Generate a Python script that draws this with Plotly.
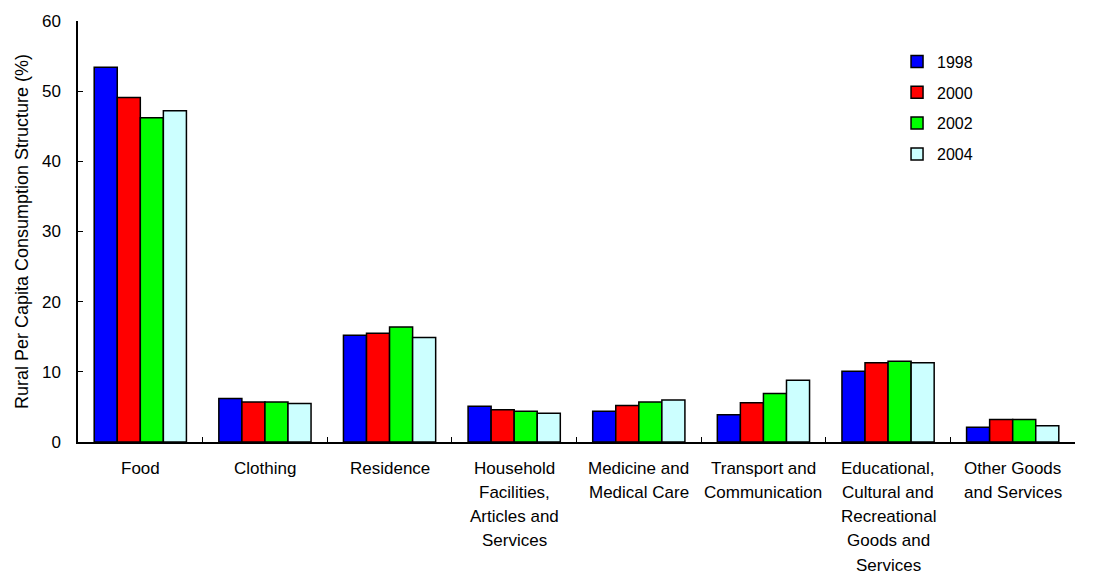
import plotly.graph_objects as go

# Rural per capita consumption structure (%), by spending category
categories = ["Food", "Clothing", "Residence", "Household", "Medicine",
              "Transport", "Education", "Other"]
category_lines = [
    ["Food"],
    ["Clothing"],
    ["Residence"],
    ["Household", "Facilities,", "Articles and", "Services"],
    ["Medicine and", "Medical Care"],
    ["Transport and", "Communication"],
    ["Educational,", "Cultural and", "Recreational", "Goods and", "Services"],
    ["Other Goods", "and Services"],
]

years = ["1998", "2000", "2002", "2004"]
values_1998 = [53.4, 6.2, 15.2, 5.1, 4.4, 3.9, 10.1, 2.1]
values_2000 = [49.1, 5.7, 15.5, 4.6, 5.2, 5.6, 11.3, 3.2]
values_2002 = [46.2, 5.7, 16.4, 4.4, 5.7, 6.9, 11.5, 3.2]
values_2004 = [47.2, 5.5, 14.9, 4.1, 6.0, 8.8, 11.3, 2.3]
series = [values_1998, values_2000, values_2002, values_2004]
colors = ["#0000FF", "#FF0000", "#00FF00", "#CCFFFF"]

FONT = "Liberation Sans, Arial, sans-serif"

fig = go.Figure()
for i, (year, vals, col) in enumerate(zip(years, series, colors)):
    fig.add_trace(go.Bar(
        x=categories, y=vals, name=year,
        legendgroup=year,
        marker=dict(color=col, line=dict(color="black", width=1.5)),
    ))

# multi-line category labels under the axis
line_gap = 24.3
for cat, lines in zip(categories, category_lines):
    for j, txt in enumerate(lines):
        fig.add_annotation(
            x=cat, xref="x", y=0, yref="paper",
            text=txt, showarrow=False,
            yanchor="middle", xanchor="center",
            yshift=-(26 + j * line_gap),
            font=dict(family=FONT, size=17, color="black"),
        )

fig.update_layout(
    width=1096, height=574,
    margin=dict(l=78, r=21, t=16, b=132),
    paper_bgcolor="white", plot_bgcolor="white",
    barmode="group", bargap=0.26, bargroupgap=0,
    font=dict(family=FONT, size=16, color="black"),
    showlegend=True,
    legend=dict(
        x=0.8215, y=0.944, xanchor="left", yanchor="top",
        font=dict(family=FONT, size=16, color="black"),
        tracegroupgap=7, bgcolor="rgba(0,0,0,0)",
    ),
    xaxis=dict(
        type="category", showline=True, linecolor="black", linewidth=1.5,
        ticks="inside", ticklen=5, tickcolor="black", tickson="boundaries",
        showticklabels=False, showgrid=False, zeroline=False,
        range=[-0.5, len(categories) - 0.5],
    ),
    yaxis=dict(
        range=[0, 60], dtick=10, showline=True, linecolor="black", linewidth=1.5,
        ticks="inside", ticklen=5, tickcolor="black",
        showgrid=False, zeroline=False,
        tickfont=dict(family=FONT, size=17, color="black"),
        ticklabelstandoff=12,
        title=dict(text="Rural Per Capita Consumption Structure (%)",
                   font=dict(family=FONT, size=18, color="black"),
                   standoff=9),
    ),
)

fig.write_html("out.html")
